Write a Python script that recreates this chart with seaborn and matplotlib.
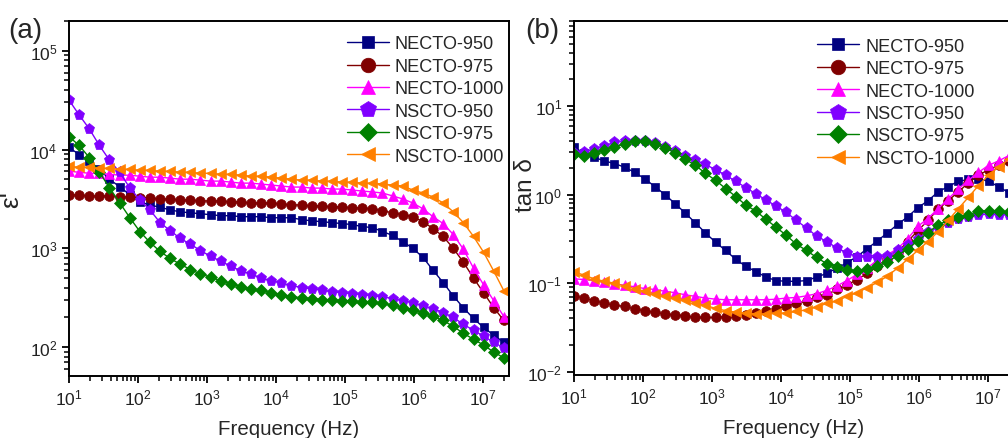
import matplotlib
matplotlib.use("Agg")
import matplotlib.pyplot as plt
from matplotlib.ticker import NullFormatter
import seaborn as sns

# frequency sweep, 10 Hz .. 20 MHz (44 points)
freq = [10, 14.01, 19.64, 27.52, 38.57, 54.05, 75.73, 106.1, 148.7, 208.4, 292.0,
        409.2, 573.5, 803.5, 1126, 1578, 2211, 3098, 4341, 6084, 8526, 11948,
        16743, 23462, 32877, 46073, 64563, 90472, 126790, 177660, 248970, 348880,
        488890, 685090, 960050, 1345300, 1885300, 2641900, 3702200, 5188000,
        7270000, 10188000, 14276000, 20000000]

labels = ["NECTO-950", "NECTO-975", "NECTO-1000", "NSCTO-950", "NSCTO-975", "NSCTO-1000"]
colors = ["#000080", "#800000", "#ff00ff", "#8000ff", "#008000", "#ff8000"]
markers = ["s", "o", "^", "p", "D", "<"]
msizes = [6, 7, 7, 8, 6, 7]

# (a) dielectric constant
eps_necto950 = [10500, 8900, 7600, 6300, 5000, 4200, 3500, 2950, 2750, 2600, 2450,
                2340, 2290, 2240, 2190, 2140, 2140, 2090, 2090, 2090, 2040, 2040,
                2040, 1950, 1900, 1860, 1820, 1780, 1740, 1660, 1620, 1480, 1350,
                1170, 1000, 810, 600, 450, 330, 250, 195, 158, 132, 112]
eps_necto975 = [3470, 3470, 3390, 3390, 3390, 3310, 3310, 3240, 3240, 3160, 3160,
                3090, 3090, 3020, 3020, 3020, 2950, 2950, 2880, 2880, 2880, 2820,
                2750, 2750, 2690, 2690, 2630, 2630, 2570, 2570, 2510, 2400, 2290,
                2190, 2090, 1860, 1585, 1320, 1000, 724, 500, 355, 251, 186]
eps_necto1000 = [6030, 5890, 5750, 5750, 5620, 5500, 5500, 5370, 5250, 5250, 5130,
                 5010, 5010, 4900, 4790, 4790, 4680, 4570, 4570, 4470, 4370, 4270,
                 4170, 4170, 4070, 4070, 3980, 3980, 3890, 3800, 3720, 3630, 3390,
                 3160, 2880, 2510, 2090, 1780, 1380, 980, 630, 427, 295, 204]
eps_nscto950 = [31600, 22400, 16200, 11000, 7800, 5900, 4100, 3100, 2450, 1820, 1510,
                1260, 1100, 950, 830, 740, 660, 590, 550, 500, 470, 445,
                420, 400, 390, 375, 365, 355, 347, 340, 330, 323, 310,
                295, 282, 263, 245, 224, 200, 170, 148, 129, 112, 98]
eps_nscto975 = [13500, 11000, 8300, 5900, 4100, 2900, 2050, 1480, 1150, 930, 790,
                690, 610, 550, 510, 470, 440, 410, 390, 375, 355, 340,
                325, 315, 310, 303, 300, 295, 290, 287, 283, 277, 265,
                250, 240, 222, 205, 186, 162, 138, 120, 105, 89, 78]
eps_nscto1000 = [6760, 6610, 6610, 6460, 6460, 6310, 6310, 6170, 6170, 6030, 6030,
                 5890, 5890, 5750, 5750, 5620, 5620, 5500, 5370, 5370, 5250, 5130,
                 5010, 4900, 4900, 4790, 4790, 4680, 4680, 4570, 4570, 4470, 4370,
                 4270, 3890, 3630, 3310, 2880, 2340, 1820, 1320, 912, 589, 372]

# (b) loss tangent
tan_necto950 = [3.4, 2.95, 2.63, 2.4, 2.24, 2.04, 1.78, 1.51, 1.23, 1.0, 0.79,
                0.62, 0.48, 0.37, 0.29, 0.234, 0.186, 0.155, 0.135, 0.117, 0.107, 0.105,
                0.105, 0.107, 0.117, 0.129, 0.148, 0.17, 0.20, 0.245, 0.30, 0.37, 0.46,
                0.56, 0.71, 0.85, 1.07, 1.23, 1.41, 1.48, 1.51, 1.41, 1.23, 1.05]
tan_necto975 = [0.072, 0.068, 0.063, 0.060, 0.056, 0.055, 0.051, 0.049, 0.047, 0.045, 0.044,
                0.043, 0.041, 0.041, 0.041, 0.042, 0.043, 0.044, 0.046, 0.048, 0.051, 0.055,
                0.059, 0.063, 0.069, 0.074, 0.085, 0.095, 0.11, 0.129, 0.155, 0.186, 0.224,
                0.295, 0.39, 0.51, 0.68, 0.85, 1.07, 1.35, 1.66, 1.9, 2.14, 2.4]
tan_necto1000 = [0.112, 0.110, 0.107, 0.102, 0.098, 0.095, 0.091, 0.087, 0.085, 0.081, 0.078,
                 0.074, 0.071, 0.068, 0.066, 0.065, 0.065, 0.065, 0.065, 0.065, 0.066, 0.068,
                 0.069, 0.072, 0.076, 0.083, 0.093, 0.107, 0.126, 0.148, 0.182, 0.21, 0.245,
                 0.316, 0.437, 0.537, 0.69, 0.89, 1.15, 1.45, 1.78, 2.14, 2.4, 2.75]
tan_nscto950 = [2.95, 3.02, 3.31, 3.55, 3.89, 3.98, 4.07, 3.98, 3.8, 3.47, 3.09,
                2.75, 2.45, 2.19, 1.91, 1.66, 1.41, 1.2, 1.02, 0.87, 0.74, 0.63,
                0.51, 0.42, 0.34, 0.295, 0.25, 0.22, 0.2, 0.195, 0.195, 0.204, 0.234,
                0.27, 0.316, 0.38, 0.427, 0.48, 0.525, 0.56, 0.59, 0.60, 0.59, 0.59]
tan_nscto975 = [2.88, 2.75, 2.95, 3.16, 3.47, 3.72, 3.98, 3.98, 3.72, 3.39, 2.95,
                2.51, 2.14, 1.74, 1.45, 1.17, 0.95, 0.76, 0.65, 0.525, 0.427, 0.347,
                0.275, 0.234, 0.195, 0.166, 0.151, 0.141, 0.138, 0.145, 0.155, 0.174, 0.204,
                0.245, 0.30, 0.37, 0.457, 0.51, 0.56, 0.59, 0.65, 0.66, 0.65, 0.63]
tan_nscto1000 = [0.135, 0.123, 0.112, 0.105, 0.100, 0.093, 0.087, 0.081, 0.076, 0.072, 0.068,
                 0.065, 0.060, 0.056, 0.052, 0.049, 0.047, 0.046, 0.045, 0.045, 0.046, 0.046,
                 0.048, 0.050, 0.054, 0.059, 0.063, 0.071, 0.078, 0.089, 0.102, 0.12, 0.148,
                 0.186, 0.234, 0.295, 0.38, 0.51, 0.69, 0.93, 1.26, 1.66, 2.04, 2.5]

eps_series = [eps_necto950, eps_necto975, eps_necto1000, eps_nscto950, eps_nscto975, eps_nscto1000]
tan_series = [tan_necto950, tan_necto975, tan_necto1000, tan_nscto950, tan_nscto975, tan_nscto1000]

# tick positions
x_major = [1e1, 1e2, 1e3, 1e4, 1e5, 1e6, 1e7]
eps_major = [1e2, 1e3, 1e4, 1e5]
tan_major = [1e-2, 1e-1, 1e0, 1e1]

sns.set_theme(style="ticks")
plt.rcParams['font.family'] = ['Liberation Sans', 'DejaVu Sans']
plt.rcParams['axes.linewidth'] = 1.4
plt.rcParams['xtick.direction'] = 'out'
plt.rcParams['ytick.direction'] = 'out'


def minor_ticks(lo, hi):
    out = []
    for e in range(lo, hi):
        for m in range(2, 10):
            out.append(m * 10.0 ** e)
    return out


def draw_panel(ax, series, ylabel, ylsize, ylim, yticks, yminor, label_xy, legend_anchor):
    for vals, lab, col, mk, ms in zip(series, labels, colors, markers, msizes):
        sns.lineplot(x=freq, y=vals, ax=ax, color=col, marker=mk, markersize=ms,
                     markeredgecolor=col, markeredgewidth=0.5, linewidth=1.0,
                     label=lab, sort=False)
    ax.set_xscale('log')
    ax.set_yscale('log')
    ax.set_xticks(x_major)
    ax.set_xticks(minor_ticks(1, 8), minor=True)
    ax.set_yticks(yticks)
    ax.set_yticks(yminor, minor=True)
    ax.xaxis.set_minor_formatter(NullFormatter())
    ax.yaxis.set_minor_formatter(NullFormatter())
    ax.set_xlim(10, 2.38e7)
    ax.set_ylim(*ylim)
    ax.set_xlabel("Frequency (Hz)", fontsize=14.8, labelpad=8)
    ax.set_ylabel(ylabel, fontsize=ylsize)
    ax.yaxis.set_label_coords(*label_xy)
    ax.tick_params(which='major', length=5, width=1.3, labelsize=12.5,
                   color='black', labelcolor='#222222')
    ax.tick_params(which='minor', length=3.5, width=1.1, color='black')
    for sp in ax.spines.values():
        sp.set_visible(True)
        sp.set_color('black')
    ax.legend(loc='upper left', bbox_to_anchor=legend_anchor,
              bbox_transform=ax.figure.transFigure, frameon=False,
              fontsize=13.1, markerscale=1.5, handlelength=2.3,
              handletextpad=0.35, labelspacing=0.30, borderpad=0,
              borderaxespad=0)


fig = plt.figure(figsize=(10.08, 4.39), dpi=100)
ax1 = fig.add_axes([0.0685, 0.1412, 0.4365, 0.8087])
ax2 = fig.add_axes([0.5694, 0.1435, 0.4365, 0.8064])

draw_panel(ax1, eps_series, "ε'", 19, (51, 2e5), eps_major, minor_ticks(1, 6),
           (-0.105, 0.5), (0.344, 0.917))
draw_panel(ax2, tan_series, "tan δ", 17.5, (0.0092, 91), tan_major, minor_ticks(-3, 2),
           (-0.085, 0.54), (0.8105, 0.912))

fig.text(0.008, 0.958, "(a)", fontsize=20, va='top', ha='left')
fig.text(0.521, 0.958, "(b)", fontsize=20, va='top', ha='left')

fig.savefig("out.png", dpi=100)
